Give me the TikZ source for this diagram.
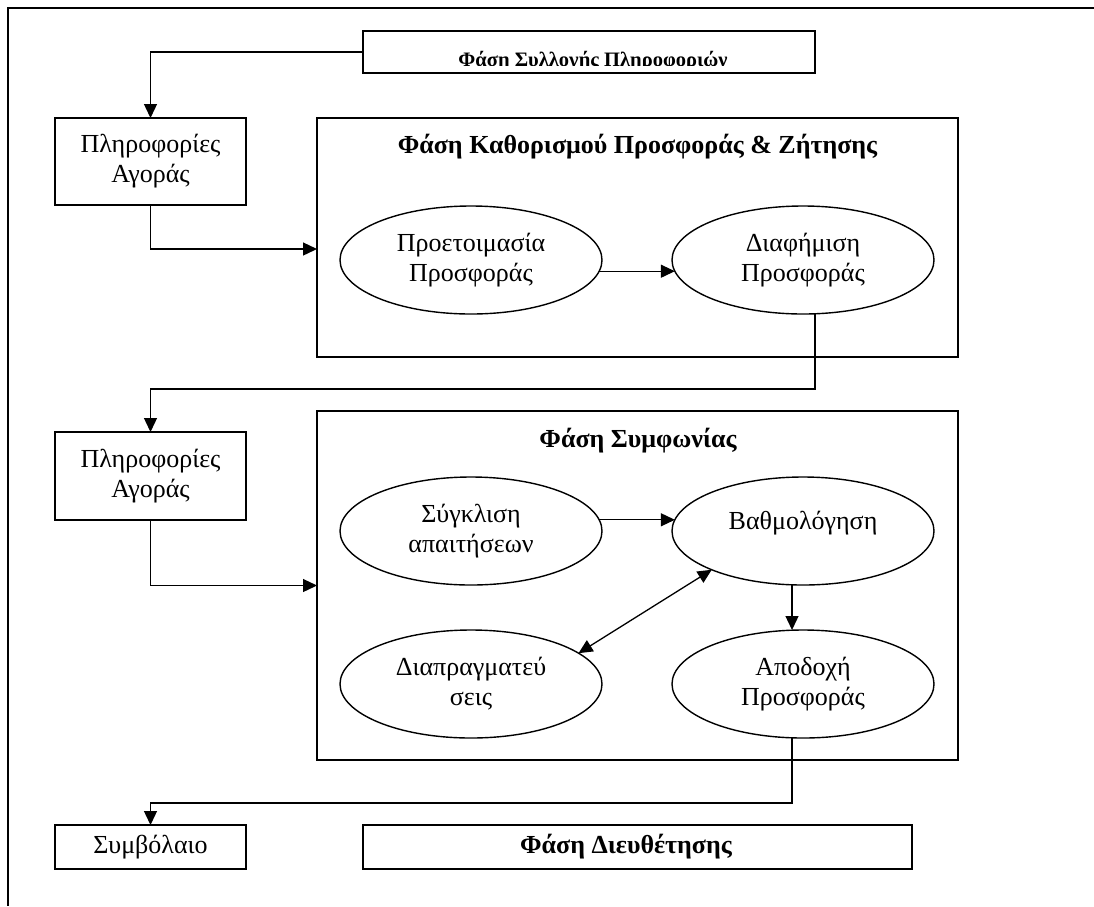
\documentclass[tikz,border=0pt]{standalone}
\usepackage{fontspec}
\setmainfont{Liberation Serif}
\usetikzlibrary{shapes.geometric,arrows.meta,calc}

\begin{document}
\begin{tikzpicture}[x=1pt,y=-1pt,
  txt/.style={font=\fontsize{26}{30}\selectfont, align=center, inner sep=0pt},
  ttl/.style={font=\fontsize{26}{30}\selectfont\bfseries, align=center, inner sep=0pt},
  box/.style={draw, line width=1.7pt, inner sep=0pt, outer sep=0pt},
  oval/.style={ellipse, draw, line width=1.4pt, inner sep=0pt, outer sep=0pt,
    minimum width=262pt, minimum height=108pt, txt},
  conn/.style={line width=1.3pt},
  tip/.tip={Triangle[length=14pt,width=13pt]},
  arr/.style={conn, -tip},
  darr/.style={conn, tip-tip}]

% page area and frame (top and left edges only)
\useasboundingbox (0,0) rectangle (1094,906);
\coordinate (frameTR) at (1094,8);
\coordinate (frameTL) at (8,8);
\coordinate (frameBL) at (8,906);
\draw[line width=2.2pt] (frameTR) -- (frameTL) -- (frameBL);

% information gathering phase (its label is cut off at the bottom of the frame)
\node[box, minimum width=452pt, minimum height=42pt] (collect) at (589,52) {};
\begin{scope}
  \clip (363,31) rectangle (815,65.5);
  \node[ttl, font=\fontsize{20.5}{24}\selectfont\bfseries, anchor=base] (collectTxt) at (593,66.5) {Φάση Συλλογής Πληροφοριών};
\end{scope}

% market information boxes
\node[box, txt, minimum width=191pt, minimum height=87pt] (info1) at (150.5,161.5) {Πληροφορίες\\Αγοράς};
\node[box, txt, minimum width=191pt, minimum height=88pt] (info2) at (150.5,476) {Πληροφορίες\\Αγοράς};

% offer and demand phase
\node[box, minimum width=641pt, minimum height=239pt] (phase1) at (637.5,237.5) {};
\node[ttl] (phase1Ttl) at (637.5,147) {Φάση Καθορισμού Προσφοράς \& Ζήτησης};
\node[oval] (prep) at (471,260) {Προετοιμασία\\Προσφοράς};
\node[oval] (adv) at (803,260) {Διαφήμιση\\Προσφοράς};

% agreement phase
\node[box, minimum width=641pt, minimum height=349pt] (phase2) at (637.5,585.5) {};
\node[ttl] (phase2Ttl) at (638,441) {Φάση Συμφωνίας};
\node[oval] (conv) at (471,531) {Σύγκλιση\\απαιτήσεων};
\node[oval] (score) at (803,531) {Βαθμολόγηση\\[-9pt]\mbox{}};
\node[oval] (nego) at (471,684) {Διαπραγματεύ\\σεις};
\node[oval] (accept) at (803,684) {Αποδοχή\\Προσφοράς};

% contract and settlement phase
\node[box, txt, minimum width=191pt, minimum height=44pt] (contract) at (150.5,847) {Συμβόλαιο};
\node[box, minimum width=549pt, minimum height=44pt] (settle) at (637.5,847) {};
\node[ttl] (settleTxt) at (626,847) {Φάση Διευθέτησης};

% connectors
\draw[arr] (collect.west) -| (info1.north);
\draw[arr] (info1.south) |- ([yshift=-11.5pt]phase1.west);
\draw[arr] (prep.-5) -- (adv.185);
\coordinate (j1) at (815,389);
\draw[arr] ([xshift=12pt]adv.south) -- (j1) -- (j1 -| info2.north) -- (info2.north);
\draw[arr] (info2.south) |- (phase2.west);
\draw[arr] (conv.5) -- (score.175);
\draw[arr] ([xshift=-11pt]score.south) -- ([xshift=-11pt]accept.north);
\draw[darr] (nego.16) -- (score.203);
\coordinate (j2) at (792,803);
\draw[arr] ([xshift=-11pt]accept.south) -- (j2) -- (j2 -| contract.north) -- (contract.north);

\end{tikzpicture}
\end{document}
